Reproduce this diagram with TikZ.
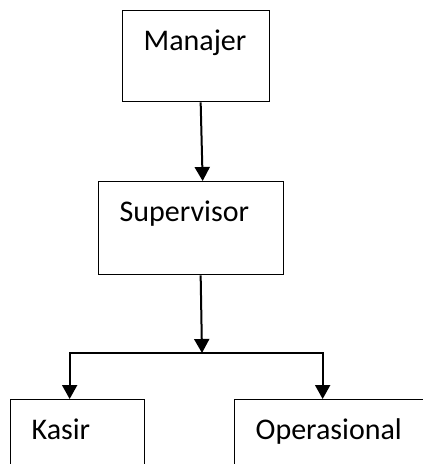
\documentclass[tikz,border=0pt]{standalone}
\usepackage{fontspec}
\setmainfont{Carlito}
\usepackage{tikz}
\usetikzlibrary{arrows.meta,positioning,calc}
\tikzstyle{arrow} = [line width=2pt,-{Triangle[width=15pt,length=14pt]}]
\tikzstyle{orgbox} = [rectangle, draw=black, line width=1.3pt, anchor=north west, align=left, inner xsep=21pt, inner ysep=0pt, text height=40pt, text depth=51pt, font=\fontsize{30}{36}\selectfont]

\begin{document}
\begin{tikzpicture}[x=1pt,y=-1pt]
\useasboundingbox (0,0) rectangle (423,464);

% Top
\node[orgbox, text width=105pt] (man) at (122,10) {Manajer};

% Middle
\node[orgbox, text width=143pt, text depth=53pt] (sup) at (98,181) {Supervisor};

% Bottom
\node[orgbox, text width=92pt] (kas) at (10,399) {Kasir};
\node[orgbox, text width=174pt] (ops) at (234,399) {Operasional};

% Connections
\coordinate (split) at (202,353);
\draw[arrow] ([xshift=4.5pt]man.south) -- ([xshift=11.5pt]sup.north);
\draw[arrow] ([xshift=9.5pt]sup.south) -- (split);
\draw[arrow] (split) -| ([xshift=-8pt]kas.north);
\draw[arrow] (split) -| ([xshift=-20pt]ops.north);
\end{tikzpicture}
\end{document}
